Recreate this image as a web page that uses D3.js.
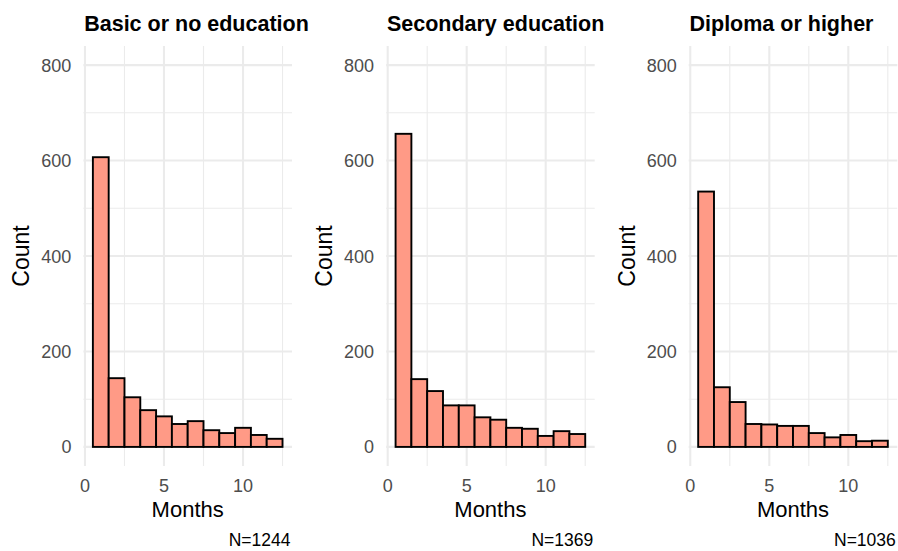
<!DOCTYPE html>
<html>
<head>
<meta charset="utf-8">
<script src="https://cdn.jsdelivr.net/npm/d3@7"></script>
<style>
  html, body { margin: 0; padding: 0; background: #fff; }
  svg { display: block; font-family: "Liberation Sans", Arial, sans-serif; }
</style>
</head>
<body>
<svg id="chart" width="898" height="551"></svg>
<script>
// Months since event (bin centres), one bar per month
const months = [1, 2, 3, 4, 5, 6, 7, 8, 9, 10, 11, 12];
const groups = ["Basic or no education", "Secondary education", "Diploma or higher"];
const countsBasic = [607, 144, 104, 77, 64, 48, 54, 35, 29, 40, 25, 17];
const countsSecondary = [656, 142, 117, 87, 87, 62, 57, 40, 38, 23, 33, 27];
const countsDiploma = [535, 125, 94, 48, 47, 44, 44, 29, 20, 25, 12, 13];
const seriesCounts = [countsBasic, countsSecondary, countsDiploma];
const xTicks = [0, 5, 10];
const xMinor = [2.5, 7.5, 12.5];
const yTicks = [0, 200, 400, 600, 800];
const yMinor = [100, 300, 500, 700];

const svg = d3.select("#chart");
const panelLeft = [83.4, 386.1, 688.7];
const panelW = 208.6;
const plotTop = 46, plotBottom = 466;

// ggplot-like expansion: data range 0.5..12.5 padded by 5%
const xDom = [0.5 - 0.6, 12.5 + 0.6];
const yDom = [-40, 840];

groups.forEach((g, i) => {
  const counts = seriesCounts[i];
  const x = d3.scaleLinear().domain(xDom).range([panelLeft[i], panelLeft[i] + panelW]);
  const y = d3.scaleLinear().domain(yDom).range([plotBottom, plotTop]);
  const p = svg.append("g");

  // minor grid
  p.selectAll(".vmin").data(xMinor).join("line")
    .attr("x1", d => x(d)).attr("x2", d => x(d)).attr("y1", plotTop).attr("y2", plotBottom)
    .attr("stroke", "#EBEBEB").attr("stroke-width", 1.1);
  p.selectAll(".hmin").data(yMinor).join("line")
    .attr("x1", x.range()[0]).attr("x2", x.range()[1]).attr("y1", d => y(d)).attr("y2", d => y(d))
    .attr("stroke", "#EBEBEB").attr("stroke-width", 1.1);
  // major grid
  p.selectAll(".vmaj").data(xTicks).join("line")
    .attr("x1", d => x(d)).attr("x2", d => x(d)).attr("y1", plotTop).attr("y2", plotBottom)
    .attr("stroke", "#EBEBEB").attr("stroke-width", 2.1);
  p.selectAll(".hmaj").data(yTicks).join("line")
    .attr("x1", x.range()[0]).attr("x2", x.range()[1]).attr("y1", d => y(d)).attr("y2", d => y(d))
    .attr("stroke", "#EBEBEB").attr("stroke-width", 2.1);

  // bars
  p.selectAll("rect.bar").data(months).join("rect")
    .attr("class", "bar")
    .attr("x", d => x(d - 0.5))
    .attr("width", d => x(d + 0.5) - x(d - 0.5))
    .attr("y", (d, k) => y(counts[k]))
    .attr("height", (d, k) => y(0) - y(counts[k]))
    .attr("fill", "#FF9A86")
    .attr("stroke", "#000")
    .attr("stroke-width", 1.9);

  // axis tick labels
  p.selectAll(".xt").data(xTicks).join("text")
    .attr("x", d => x(d)).attr("y", 492)
    .attr("text-anchor", "middle").attr("font-size", 18).attr("fill", "#4D4D4D")
    .text(d => d);
  p.selectAll(".yt").data(yTicks).join("text")
    .attr("x", x.range()[0] - 12).attr("y", d => y(d) + 6.5)
    .attr("text-anchor", "end").attr("font-size", 18).attr("fill", "#4D4D4D")
    .text(d => d);

  // titles
  p.append("text").attr("x", panelLeft[i] + 0.8).attr("y", 31)
    .attr("font-size", 21.5).attr("font-weight", "bold").attr("fill", "#000")
    .text(g);
  p.append("text")
    .attr("x", (panelLeft[i] + panelLeft[i] + panelW) / 2).attr("y", 517)
    .attr("text-anchor", "middle").attr("font-size", 22).attr("fill", "#000")
    .text("Months");
  p.append("text")
    .attr("transform", `translate(${panelLeft[i] - 54},${(plotTop + plotBottom) / 2}) rotate(-90)`)
    .attr("text-anchor", "middle").attr("font-size", 23).attr("fill", "#000")
    .text("Count");
  p.append("text")
    .attr("x", panelLeft[i] + panelW - 1.5).attr("y", 546)
    .attr("text-anchor", "end").attr("font-size", 17.5).attr("fill", "#000")
    .text("N=" + d3.sum(counts));
});
</script>
</body>
</html>
